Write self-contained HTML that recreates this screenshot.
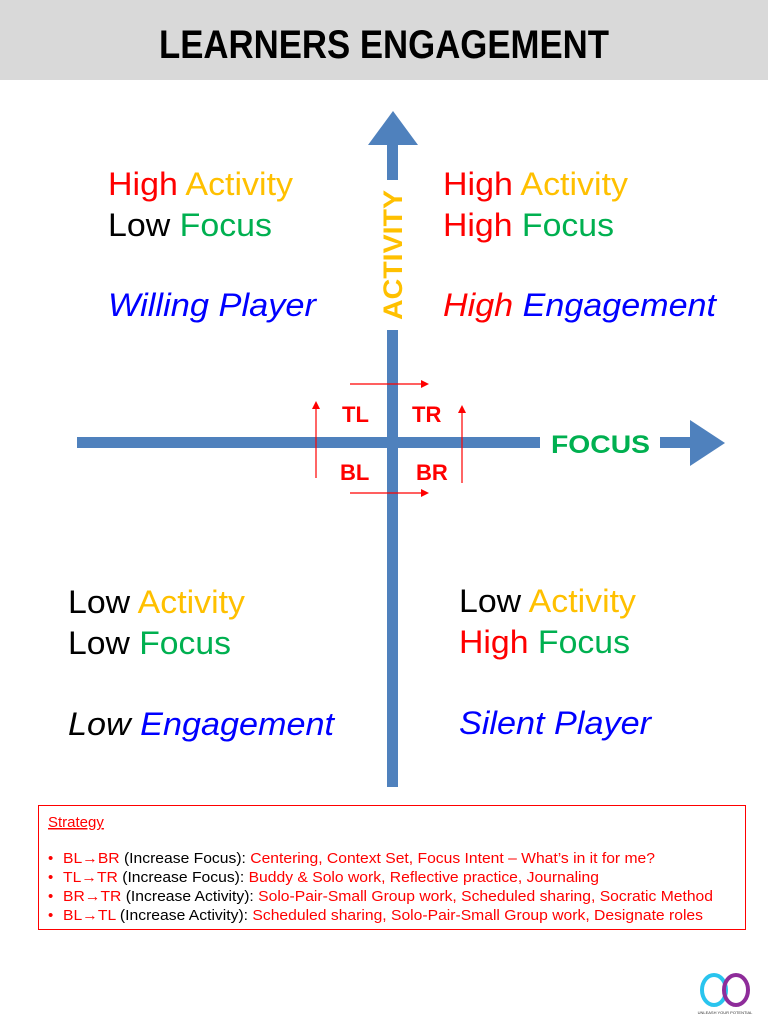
<!DOCTYPE html>
<html><head><meta charset="utf-8"><style>
html,body{margin:0;padding:0;background:#fff}
svg{display:block}
</style></head><body>
<svg width="768" height="1024" viewBox="0 0 768 1024" xmlns="http://www.w3.org/2000/svg" font-family="Liberation Sans, Arial, sans-serif">
<rect x="0" y="0" width="768" height="80" fill="#d9d9d9"/>
<text x="384" y="58" text-anchor="middle" font-size="40" font-weight="bold" textLength="450" lengthAdjust="spacingAndGlyphs" fill="#000">LEARNERS ENGAGEMENT</text>

<polygon points="393,111 418,145 368,145" fill="#4f81bd"/>
<rect x="387" y="144" width="11" height="36" fill="#4f81bd"/>
<rect x="387" y="330" width="11" height="457" fill="#4f81bd"/>
<text transform="translate(402,320) rotate(-90)" font-size="27" font-weight="bold" fill="#ffc000" textLength="130" lengthAdjust="spacingAndGlyphs">ACTIVITY</text>

<rect x="77" y="437" width="463" height="11" fill="#4f81bd"/>
<text x="551" y="453" font-size="25" font-weight="bold" fill="#00b050" textLength="99" lengthAdjust="spacingAndGlyphs">FOCUS</text>
<rect x="660" y="437" width="32" height="11" fill="#4f81bd"/>
<polygon points="725,443 690,420 690,466" fill="#4f81bd"/>

<g font-size="22" font-weight="bold" fill="#ff0000">
<text x="342" y="422">TL</text>
<text x="412" y="422">TR</text>
<text x="340" y="480">BL</text>
<text x="416" y="480">BR</text>
</g>
<g stroke="#ff0000" stroke-width="1.2" fill="none">
<line x1="350" y1="384" x2="422" y2="384"/>
<line x1="350" y1="493" x2="422" y2="493"/>
<line x1="316" y1="478" x2="316" y2="408"/>
<line x1="462" y1="483" x2="462" y2="412"/>
</g>
<g fill="#ff0000">
<polygon points="429,384 421,380 421,388"/>
<polygon points="429,493 421,489 421,497"/>
<polygon points="316,401 312,409 320,409"/>
<polygon points="462,405 458,413 466,413"/>
</g>

<g font-size="32" lengthAdjust="spacingAndGlyphs">
<text x="108" y="195" textLength="185" lengthAdjust="spacingAndGlyphs"><tspan fill="#ff0000">High </tspan><tspan fill="#ffc000">Activity</tspan></text>
<text x="108" y="236" textLength="164" lengthAdjust="spacingAndGlyphs"><tspan fill="#000">Low </tspan><tspan fill="#00b050">Focus</tspan></text>
<text x="108" y="316" textLength="208" lengthAdjust="spacingAndGlyphs" font-style="italic" fill="#0000ff">Willing Player</text>

<text x="443" y="195" textLength="185" lengthAdjust="spacingAndGlyphs"><tspan fill="#ff0000">High </tspan><tspan fill="#ffc000">Activity</tspan></text>
<text x="443" y="236" textLength="171" lengthAdjust="spacingAndGlyphs"><tspan fill="#ff0000">High </tspan><tspan fill="#00b050">Focus</tspan></text>
<text x="443" y="316" textLength="273" lengthAdjust="spacingAndGlyphs" font-style="italic"><tspan fill="#ff0000">High </tspan><tspan fill="#0000ff">Engagement</tspan></text>

<text x="68" y="613" textLength="177" lengthAdjust="spacingAndGlyphs"><tspan fill="#000">Low </tspan><tspan fill="#ffc000">Activity</tspan></text>
<text x="68" y="654" textLength="163" lengthAdjust="spacingAndGlyphs"><tspan fill="#000">Low </tspan><tspan fill="#00b050">Focus</tspan></text>
<text x="68" y="735" textLength="266" lengthAdjust="spacingAndGlyphs" font-style="italic"><tspan fill="#000">Low </tspan><tspan fill="#0000ff">Engagement</tspan></text>

<text x="459" y="612" textLength="177" lengthAdjust="spacingAndGlyphs"><tspan fill="#000">Low </tspan><tspan fill="#ffc000">Activity</tspan></text>
<text x="459" y="653" textLength="171" lengthAdjust="spacingAndGlyphs"><tspan fill="#ff0000">High </tspan><tspan fill="#00b050">Focus</tspan></text>
<text x="459" y="734" textLength="192" lengthAdjust="spacingAndGlyphs" font-style="italic" fill="#0000ff">Silent Player</text>
</g>

<rect x="38.5" y="805.5" width="707" height="124" fill="#fff" stroke="#ff0000" stroke-width="1"/>
<g font-size="15">
<text x="48" y="827" fill="#ff0000" text-decoration="underline">Strategy</text>
<text x="48" y="863" fill="#ff0000">•</text>
<text x="48" y="882" fill="#ff0000">•</text>
<text x="48" y="901" fill="#ff0000">•</text>
<text x="48" y="920" fill="#ff0000">•</text>
<text x="63" y="863" textLength="592" lengthAdjust="spacingAndGlyphs"><tspan fill="#ff0000">BL→BR</tspan><tspan fill="#000"> (Increase Focus): </tspan><tspan fill="#ff0000">Centering, Context Set, Focus Intent – What’s in it for me?</tspan></text>
<text x="63" y="882" textLength="536" lengthAdjust="spacingAndGlyphs"><tspan fill="#ff0000">TL→TR</tspan><tspan fill="#000"> (Increase Focus): </tspan><tspan fill="#ff0000">Buddy &amp; Solo work, Reflective practice, Journaling</tspan></text>
<text x="63" y="901" textLength="650" lengthAdjust="spacingAndGlyphs"><tspan fill="#ff0000">BR→TR</tspan><tspan fill="#000"> (Increase Activity): </tspan><tspan fill="#ff0000">Solo-Pair-Small Group work, Scheduled sharing, Socratic Method</tspan></text>
<text x="63" y="920" textLength="640" lengthAdjust="spacingAndGlyphs"><tspan fill="#ff0000">BL→TL</tspan><tspan fill="#000"> (Increase Activity): </tspan><tspan fill="#ff0000">Scheduled sharing, Solo-Pair-Small Group work, Designate roles</tspan></text>
</g>

<ellipse cx="714" cy="990" rx="12" ry="15" fill="none" stroke="#29c4ee" stroke-width="4"/>
<ellipse cx="736" cy="990" rx="12" ry="15" fill="none" stroke="#8e2c9a" stroke-width="4"/>
<text x="725" y="1014" font-size="4" text-anchor="middle" fill="#333">UNLEASH YOUR POTENTIAL</text>
</svg>
</body></html>
